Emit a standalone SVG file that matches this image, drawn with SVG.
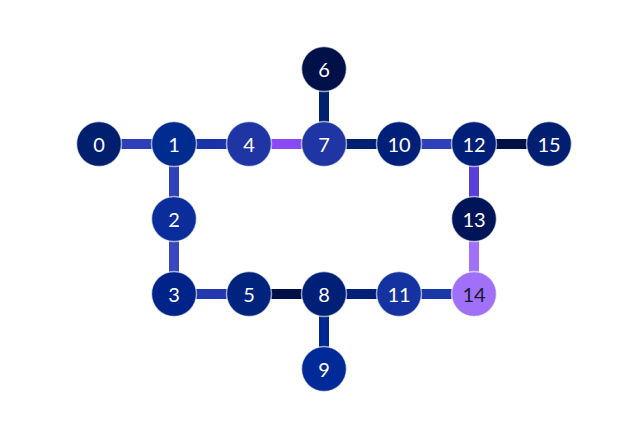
<svg xmlns="http://www.w3.org/2000/svg" width="626" height="429" viewBox="0 0 626 429">
<style>
.e{stroke-width:10;fill:none}
.n circle{stroke:#ffffff;stroke-opacity:0.6;stroke-width:1.5}
.n text{font-family:Lato,"Open Sans",sans-serif;font-size:20px;fill:#ffffff;text-anchor:middle;dominant-baseline:central}
</style>
<rect width="626" height="429" fill="#ffffff"/>
<g id="edges">
<line class="e" x1="99" y1="144" x2="174" y2="144" stroke="#2f3fb8"/>
<line class="e" x1="174" y1="144" x2="249" y2="144" stroke="#1a33a8"/>
<line class="e" x1="249" y1="144" x2="324" y2="144" stroke="#8a4af3"/>
<line class="e" x1="324" y1="144" x2="399" y2="144" stroke="#001f70"/>
<line class="e" x1="399" y1="144" x2="474" y2="144" stroke="#3040b8"/>
<line class="e" x1="474" y1="144" x2="549" y2="144" stroke="#001044"/>
<line class="e" x1="324" y1="69" x2="324" y2="144" stroke="#00216e"/>
<line class="e" x1="174" y1="144" x2="174" y2="219" stroke="#3040b8"/>
<line class="e" x1="174" y1="219" x2="174" y2="294" stroke="#3a48c0"/>
<line class="e" x1="474" y1="144" x2="474" y2="219" stroke="#5a3fd6"/>
<line class="e" x1="474" y1="219" x2="474" y2="294" stroke="#a070f8"/>
<line class="e" x1="174" y1="294" x2="249" y2="294" stroke="#2438b0"/>
<line class="e" x1="249" y1="294" x2="324" y2="294" stroke="#000f44"/>
<line class="e" x1="324" y1="294" x2="399" y2="294" stroke="#001f78"/>
<line class="e" x1="399" y1="294" x2="474" y2="294" stroke="#1838a8"/>
<line class="e" x1="324" y1="294" x2="324" y2="369" stroke="#00288f"/>
</g>
<g id="n0" class="n"><circle cx="99" cy="144" r="22.5" fill="#001f6e"/><text x="99" y="144">0</text></g>
<g id="n1" class="n"><circle cx="174" cy="144" r="22.5" fill="#002b8f"/><text x="174" y="144">1</text></g>
<g id="n4" class="n"><circle cx="249" cy="144" r="22.5" fill="#1f35a3"/><text x="249" y="144">4</text></g>
<g id="n7" class="n"><circle cx="324" cy="144" r="22.5" fill="#1f35a3"/><text x="324" y="144">7</text></g>
<g id="n10" class="n"><circle cx="399" cy="144" r="22.5" fill="#001f78"/><text x="399" y="144">10</text></g>
<g id="n12" class="n"><circle cx="474" cy="144" r="22.5" fill="#001f78"/><text x="474" y="144">12</text></g>
<g id="n15" class="n"><circle cx="549" cy="144" r="22.5" fill="#001f70"/><text x="549" y="144">15</text></g>
<g id="n6" class="n"><circle cx="324" cy="69" r="22.5" fill="#001149"/><text x="324" y="69">6</text></g>
<g id="n2" class="n"><circle cx="174" cy="219" r="22.5" fill="#0b2c9b"/><text x="174" y="219">2</text></g>
<g id="n13" class="n"><circle cx="474" cy="219" r="22.5" fill="#001458"/><text x="474" y="219">13</text></g>
<g id="n3" class="n"><circle cx="174" cy="294" r="22.5" fill="#00238a"/><text x="174" y="294">3</text></g>
<g id="n5" class="n"><circle cx="249" cy="294" r="22.5" fill="#00237e"/><text x="249" y="294">5</text></g>
<g id="n8" class="n"><circle cx="324" cy="294" r="22.5" fill="#002078"/><text x="324" y="294">8</text></g>
<g id="n11" class="n"><circle cx="399" cy="294" r="22.5" fill="#1433a0"/><text x="399" y="294">11</text></g>
<g id="n14" class="n"><circle cx="474" cy="294" r="22.5" fill="#a070f8"/><text x="474" y="294" style="fill:#1a1a2e">14</text></g>
<g id="n9" class="n"><circle cx="324" cy="369" r="22.5" fill="#002a98"/><text x="324" y="369">9</text></g>
</svg>
